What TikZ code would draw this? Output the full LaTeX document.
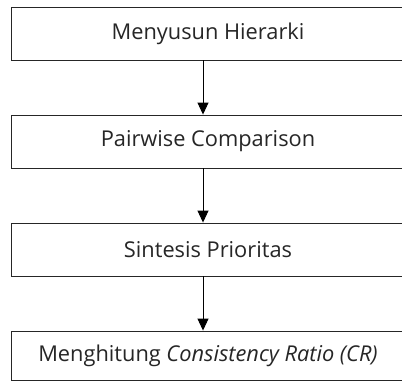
\documentclass[tikz,border=0pt]{standalone}
\usepackage{fontspec}
\setmainfont{Open Sans}
\usetikzlibrary{arrows.meta}
\begin{document}
\begin{tikzpicture}[x=1pt,y=-1pt,
  stepbox/.style={draw=black!85,line width=0.9pt,minimum width=394pt,inner sep=0pt,
    font=\fontsize{21.8}{26}\selectfont,text=black!85},
  flow/.style={draw=black,line width=0.9pt,-{Triangle[length=12pt,width=11pt]}}]
\useasboundingbox[fill=white] (0,0) rectangle (402,383);
\node[stepbox,minimum height=53pt] (b1) at (208,33.5) {Menyusun Hierarki};
\node[stepbox,minimum height=53pt] (b2) at (208,141.5) {Pairwise Comparison};
\node[stepbox,minimum height=53pt] (b3) at (208,249.5) {Sintesis Prioritas};
\node[stepbox,minimum height=49pt] (b4) at (208,355.5) {Menghitung \textit{Consistency Ratio (CR)}};
\draw[flow] ([xshift=-5pt]b1.south) -- ([xshift=-5pt]b2.north);
\draw[flow] ([xshift=-5pt]b2.south) -- ([xshift=-5pt]b3.north);
\draw[flow] ([xshift=-5pt]b3.south) -- ([xshift=-5pt]b4.north);
\end{tikzpicture}
\end{document}
